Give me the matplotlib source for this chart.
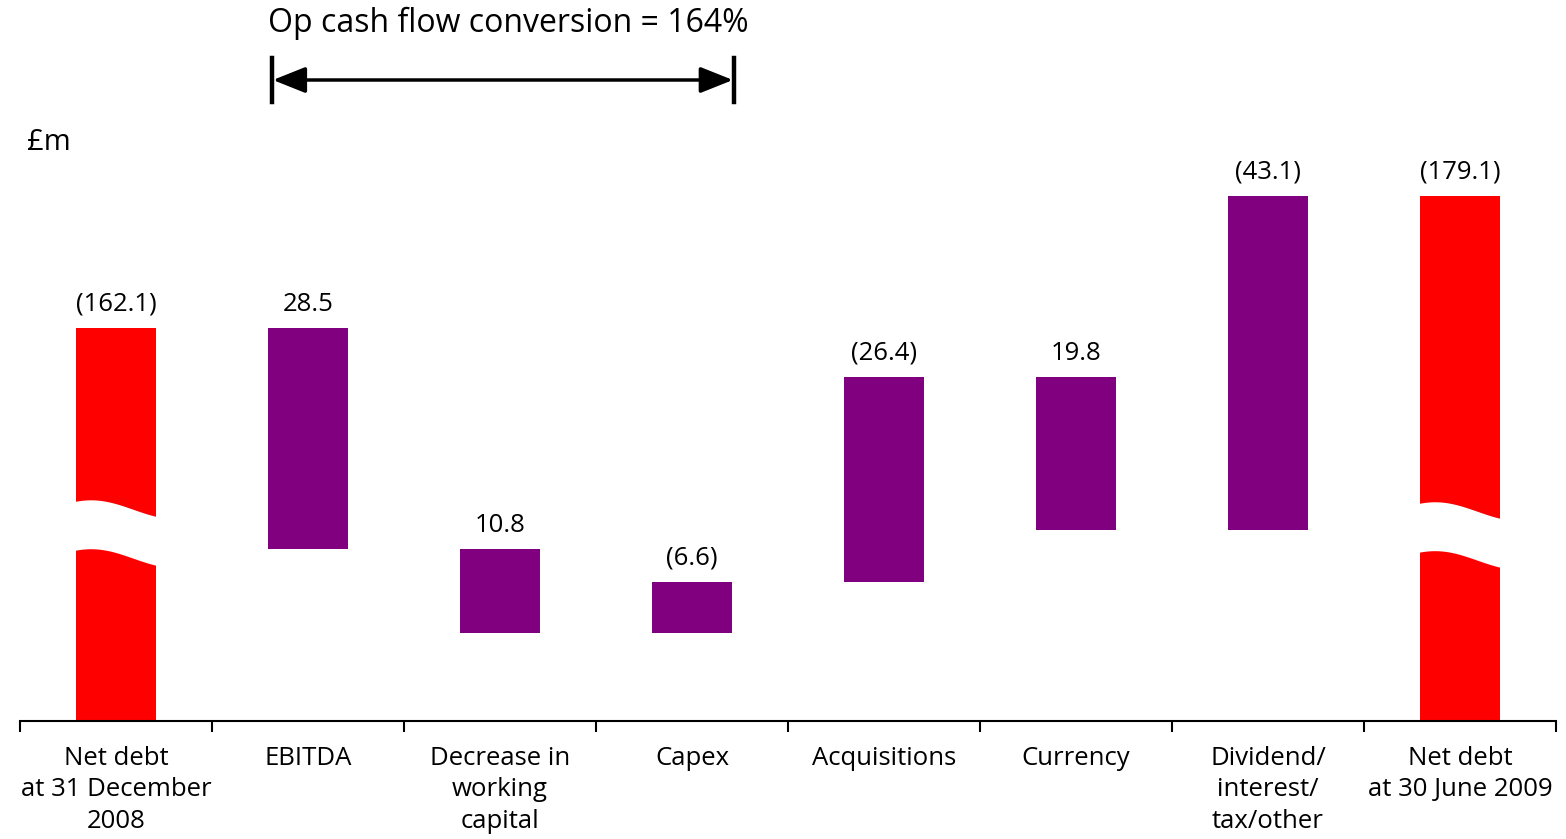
import numpy as np
import matplotlib
matplotlib.use("Agg")
import matplotlib.pyplot as plt
from matplotlib.transforms import blended_transform_factory

plt.rcParams['font.family'] = ['Open Sans', 'DejaVu Sans']

categories = ["Net debt\nat 31 December\n2008", "EBITDA", "Decrease in\nworking\ncapital",
              "Capex", "Acquisitions", "Currency", "Dividend/\ninterest/\ntax/other",
              "Net debt\nat 30 June 2009"]
start_debt = 162.1
end_debt = 179.1
# cash flows: positive reduces net debt
flows = [28.5, 10.8, -6.6, -26.4, 19.8, -43.1]

red = "#ff0000"
purple = "#800080"

fig = plt.figure(figsize=(15.66, 8.39), dpi=100)
W, H = 1566, 839
ax_left, ax_right, ax_top, ax_bot = 20, 1556, 140, 721
ax = fig.add_axes([ax_left / W, (H - ax_bot) / H, (ax_right - ax_left) / W, (ax_bot - ax_top) / H])

ymin, ymax = 111.46, 186.3
ax.set_xlim(-0.5, 7.5)
ax.set_ylim(ymin, ymax)

bw = 0.42

def fmt(v):
    return "(%.1f)" % abs(v) if v < 0 else "%.1f" % v

# red end bars
ax.bar([0, 7], [start_debt - ymin, end_debt - ymin], bottom=ymin, width=bw, color=red, zorder=2)
tops = [start_debt]
labels = [fmt(-start_debt)]

debt = start_debt
for i, f in enumerate(flows):
    new = debt - f
    lo, hi = min(debt, new), max(debt, new)
    ax.bar(i + 1, hi - lo, bottom=lo, width=bw, color=purple, zorder=2)
    tops.append(hi)
    labels.append(fmt(f))
    debt = new
tops.append(end_debt)
labels.append(fmt(-end_debt))

for i, (t, lab) in enumerate(zip(tops, labels)):
    ax.annotate(lab, (i, t), xytext=(0, 8), textcoords="offset points",
                ha="center", va="bottom", fontsize=18.5)

# axis break bands on red bars
px = 1 / 7.76
for xc, ypeak in [(0, 139.95), (7, 139.7)]:
    t = np.linspace(0, 1, 60)
    xs = xc - bw / 2 - 0.01 + t * (bw + 0.02)
    upper = ypeak - 9.4 * px * (1 - np.cos(np.pi * (t - 0.2)))
    lower = upper - 6.3
    ax.fill_between(xs, lower, upper, color="white", zorder=3, lw=0)

# axes styling
for s in ["left", "right", "top"]:
    ax.spines[s].set_visible(False)
ax.spines["bottom"].set_linewidth(1.5)
ax.set_yticks([])
ax.set_xticks(np.arange(-0.5, 8, 1))
ax.set_xticklabels([])
ax.tick_params(axis="x", which="major", length=8, width=1.5, direction="out")
ax.set_xticks(np.arange(8), minor=True)
ax.set_xticklabels(categories, minor=True, fontsize=18.5, linespacing=1.34)
ax.tick_params(axis="x", which="minor", length=0, pad=18)

# annotations above chart
def ay(p):
    return (ax_bot - p) / (ax_bot - ax_top)

tr = blended_transform_factory(ax.transData, ax.transAxes)
xa, xb = 1 - bw / 2 + 0.02, 3 + bw / 2 + 0.01
ax.annotate("", xy=(xb, ay(80)), xytext=(xa, ay(80)), xycoords=tr, textcoords=tr,
            arrowprops=dict(arrowstyle="<|-|>,head_length=2.0,head_width=0.8", color="black", lw=2.5,
                            shrinkA=1, shrinkB=1), annotation_clip=False)
for xv in (xa, xb):
    ax.plot([xv, xv], [ay(58), ay(102)], color="black", lw=3.2, transform=tr, clip_on=False)
ax.text(xa - 0.02, ay(23), "Op cash flow conversion = 164%", transform=tr, ha="left", va="center",
        fontsize=23)
ax.text(0.0045, ay(143), "£m", transform=ax.transAxes, ha="left", va="center", fontsize=21)

fig.savefig("out.png", dpi=100)
